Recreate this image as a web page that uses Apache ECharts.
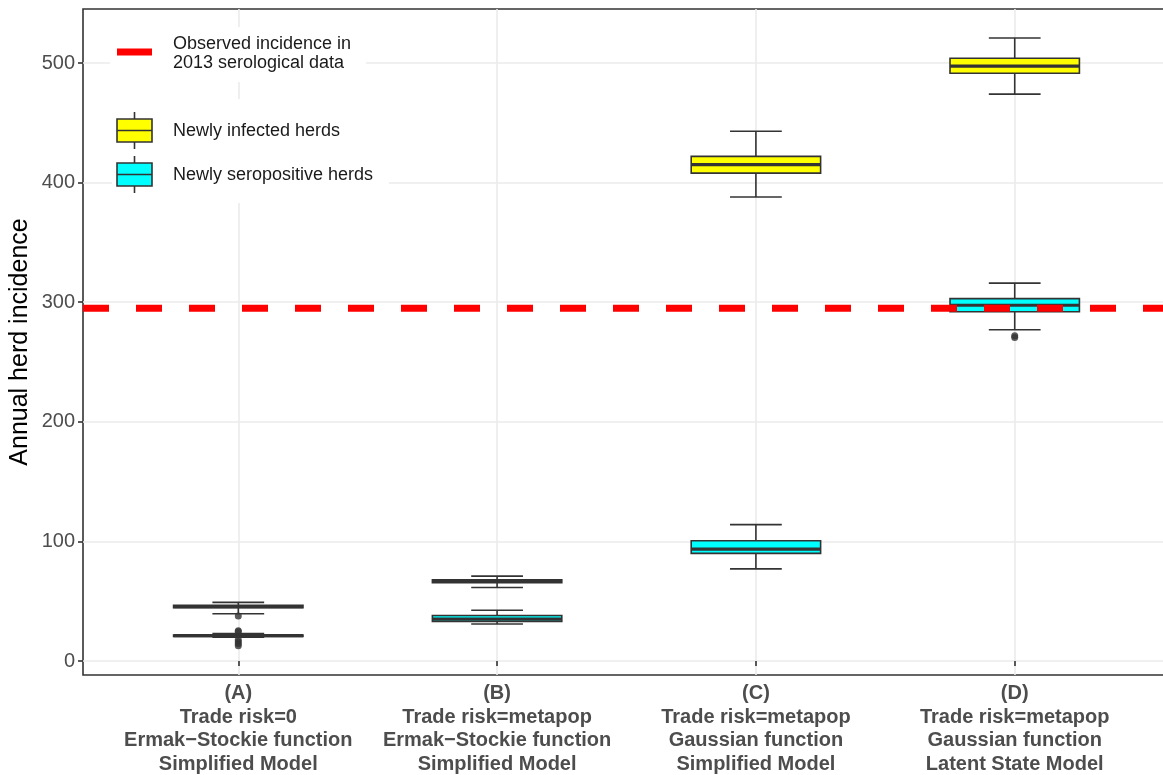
<!DOCTYPE html>
<html>
<head>
<meta charset="utf-8">
<script src="https://cdn.jsdelivr.net/npm/echarts@6/dist/echarts.min.js"></script>
<style>html,body{margin:0;padding:0;background:#fff}#c{width:1163px;height:775px}</style>
</head>
<body>
<div id="c"></div>
<script>
const categories = [
  '(A)\nTrade risk=0\nErmak\u2212Stockie function\nSimplified Model',
  '(B)\nTrade risk=metapop\nErmak\u2212Stockie function\nSimplified Model',
  '(C)\nTrade risk=metapop\nGaussian function\nSimplified Model',
  '(D)\nTrade risk=metapop\nGaussian function\nLatent State Model'
];
// [min, q1, median, q3, max]
const infectedStats = [
  [39.5, 44.5, 45.5, 46.5, 49],
  [61.5, 65.5, 66.8, 68, 71],
  [388, 408, 415, 422, 443],
  [474, 491.5, 497.5, 504, 521]
];
const seropositiveStats = [
  [20, 20.6, 21.2, 21.8, 23],
  [31, 33, 35, 38, 42.5],
  [77, 90, 93.5, 100.5, 114],
  [277, 292, 297.5, 303, 316]
];
// [category index, value]
const infectedOutliers = [[0, 37.6]];
const seropositiveOutliers = [[0, 24.5], [0, 25.3], [0, 17.8], [0, 16.2], [0, 14.5], [0, 12.8], [3, 272], [3, 270.5]];
const observedIncidence = 295;
const yTicks = [0, 100, 200, 300, 400, 500];
const seriesNames = ['Newly infected herds', 'Newly seropositive herds'];
const observedName = 'Observed incidence in\n2013 serological data';

const FONT = 'Liberation Sans';
const EDGE = '#333333';

function boxData(stats) {
  return stats.map((s, i) => [i + 1].concat(s));
}
function renderBox(color) {
  return function (params, api) {
    const x = api.value(0);
    const mn = api.value(1), q1 = api.value(2), md = api.value(3), q3 = api.value(4), mx = api.value(5);
    const bl = api.coord([x - 0.25, q1]);
    const tr = api.coord([x + 0.25, q3]);
    const line = (a, b, w) => ({
      type: 'line',
      shape: { x1: a[0], y1: a[1], x2: b[0], y2: b[1] },
      style: { stroke: EDGE, lineWidth: w, lineCap: 'butt' }
    });
    return {
      type: 'group',
      children: [
        line(api.coord([x, mx]), api.coord([x, q3]), 1.6),
        line(api.coord([x, q1]), api.coord([x, mn]), 1.6),
        line(api.coord([x - 0.1, mx]), api.coord([x + 0.1, mx]), 1.6),
        line(api.coord([x - 0.1, mn]), api.coord([x + 0.1, mn]), 1.6),
        {
          type: 'rect',
          shape: { x: bl[0], y: tr[1], width: tr[0] - bl[0], height: bl[1] - tr[1] },
          style: { fill: color, stroke: EDGE, lineWidth: 1.6 }
        },
        line(api.coord([x - 0.25, md]), api.coord([x + 0.25, md]), 3.2)
      ]
    };
  };
}

const chart = echarts.init(document.getElementById('c'), null, { renderer: 'canvas' });
const legendText = { fontFamily: FONT, fontSize: 18, fill: '#1a1a1a' };

chart.setOption({
  animation: false,
  backgroundColor: '#ffffff',
  grid: {
    left: 83, top: 9, width: 1087, height: 666,
    outerBoundsMode: 'none', containLabel: false,
    show: true, borderColor: EDGE, borderWidth: 1.6, backgroundColor: 'transparent'
  },
  xAxis: {
    type: 'value', min: 0.4, max: 4.6,
    axisLine: { show: false },
    axisTick: { show: true, customValues: [1, 2, 3, 4], length: 5, lineStyle: { color: EDGE, width: 1.6 } },
    axisLabel: {
      customValues: [1, 2, 3, 4],
      formatter: v => categories[Math.round(v) - 1],
      fontFamily: FONT, fontSize: 20, fontWeight: 'bold', color: '#4d4d4d',
      lineHeight: 23.5, margin: 7, align: 'center'
    },
    splitLine: { show: true, lineStyle: { color: '#ebebeb', width: 1.6 } }
  },
  yAxis: {
    type: 'value', min: -11.7, max: 545.2,
    name: 'Annual herd incidence', nameLocation: 'middle', nameGap: 50, nameMoveOverlap: false,
    nameTextStyle: { fontFamily: FONT, fontSize: 25, color: '#000000' },
    axisLine: { show: false },
    axisTick: { show: true, customValues: yTicks, length: 5, lineStyle: { color: EDGE, width: 1.6 } },
    axisLabel: { customValues: yTicks, fontFamily: FONT, fontSize: 20, color: '#4d4d4d', margin: 8 },
    splitLine: { show: true, lineStyle: { color: '#ebebeb', width: 1.6 } }
  },
  series: [
    {
      name: seriesNames[0], type: 'custom', renderItem: renderBox('#ffff00'),
      data: boxData(infectedStats), encode: { x: 0, y: [1, 2, 3, 4, 5] }, z: 3
    },
    {
      name: seriesNames[1], type: 'custom', renderItem: renderBox('#00ffff'),
      data: boxData(seropositiveStats), encode: { x: 0, y: [1, 2, 3, 4, 5] }, z: 3
    },
    {
      type: 'scatter', data: infectedOutliers.map(d => [d[0] + 1, d[1]]),
      symbol: 'circle', symbolSize: 7, itemStyle: { color: EDGE }, z: 4
    },
    {
      type: 'scatter', data: seropositiveOutliers.map(d => [d[0] + 1, d[1]]),
      symbol: 'circle', symbolSize: 7, itemStyle: { color: EDGE }, z: 4
    },
    {
      name: 'Observed incidence', type: 'line', data: [[0.4, observedIncidence], [4.6, observedIncidence]],
      symbol: 'none', z: 5, silent: true,
      lineStyle: { color: '#ff0000', width: 7, type: [26, 27], cap: 'butt' }
    }
  ],
  graphic: [
    { type: 'rect', z: 100, shape: { x: 110, y: 27, width: 256, height: 55 }, style: { fill: '#ffffff' } },
    { type: 'rect', z: 100, shape: { x: 112, y: 99, width: 277, height: 104 }, style: { fill: '#ffffff' } },
    { type: 'line', z: 101, shape: { x1: 117, y1: 52, x2: 152, y2: 52 }, style: { stroke: '#ff0000', lineWidth: 7 } },
    { type: 'text', z: 101, x: 173, y: 54, style: Object.assign({ text: observedName, lineHeight: 19, verticalAlign: 'middle' }, legendText) },
    // yellow key
    { type: 'line', z: 101, shape: { x1: 134.5, y1: 112, x2: 134.5, y2: 149 }, style: { stroke: EDGE, lineWidth: 1.6 } },
    { type: 'rect', z: 102, shape: { x: 117, y: 119, width: 35, height: 23 }, style: { fill: '#ffff00', stroke: EDGE, lineWidth: 1.6 } },
    { type: 'line', z: 103, shape: { x1: 117, y1: 130.5, x2: 152, y2: 130.5 }, style: { stroke: EDGE, lineWidth: 1.6 } },
    { type: 'text', z: 101, x: 173, y: 131, style: Object.assign({ text: seriesNames[0], verticalAlign: 'middle' }, legendText) },
    // cyan key
    { type: 'line', z: 101, shape: { x1: 134.5, y1: 156, x2: 134.5, y2: 193 }, style: { stroke: EDGE, lineWidth: 1.6 } },
    { type: 'rect', z: 102, shape: { x: 117, y: 163, width: 35, height: 23 }, style: { fill: '#00ffff', stroke: EDGE, lineWidth: 1.6 } },
    { type: 'line', z: 103, shape: { x1: 117, y1: 174.5, x2: 152, y2: 174.5 }, style: { stroke: EDGE, lineWidth: 1.6 } },
    { type: 'text', z: 101, x: 173, y: 175, style: Object.assign({ text: seriesNames[1], verticalAlign: 'middle' }, legendText) }
  ]
});
</script>
</body>
</html>
